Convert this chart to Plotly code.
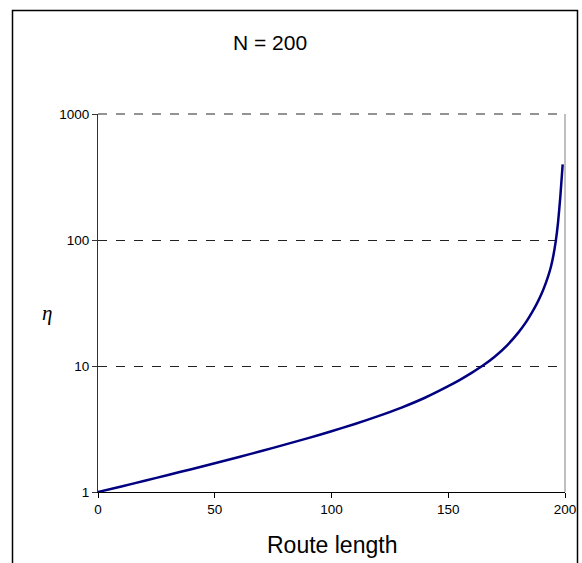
import plotly.graph_objects as go

# Data
route_length = [0, 10, 20, 30, 40, 50, 60, 70, 80, 90, 100, 110, 120, 130, 140,
                150, 155, 160, 165, 170, 175, 180, 183, 186, 188, 190, 192,
                193, 194, 195, 196, 197, 198, 199]
eta = [1.00, 1.107, 1.227, 1.365, 1.517, 1.690, 1.888, 2.113, 2.377, 2.679,
       3.034, 3.467, 4.00, 4.677, 5.598, 6.918, 7.762, 8.81, 10.12, 11.89,
       14.45, 18.41, 21.88, 26.92, 31.41, 37.58, 46.77, 53.09, 61.66, 75.0,
       96.6, 136.5, 221.3, 398.0]

y_tickvals = [1, 10, 100, 1000]
y_ticktext = ["1", "10", "100", "1000"]
x_tickvals = [0, 50, 100, 150, 200]

FONT = "Liberation Sans, Arial, sans-serif"

fig = go.Figure()
fig.add_trace(go.Scatter(
    x=route_length, y=eta, mode="lines",
    line=dict(color="#000080", width=2.5, shape="spline", smoothing=0.6),
    showlegend=False, hoverinfo="skip",
))

W, H = 582, 563
L, R, T, B = 98, 17, 114, 71
pw, ph = W - L - R, H - T - B

def px(x):
    return (x - L) / pw

def py(y):
    return (H - B - y) / ph

fig.update_layout(
    width=W, height=H,
    margin=dict(l=L, r=R, t=T, b=B, pad=0, autoexpand=False),
    paper_bgcolor="white", plot_bgcolor="white",
    font=dict(family=FONT, color="black", size=13),
    xaxis=dict(
        range=[0, 200], tickvals=x_tickvals, ticks="outside", ticklen=5,
        tickcolor="black", showline=True, linecolor="black", linewidth=1.2,
        showgrid=False, zeroline=False, automargin=False,
        tickfont=dict(size=13.5, family=FONT),
    ),
    yaxis=dict(
        type="log", range=[0, 3], tickvals=y_tickvals, ticktext=y_ticktext,
        ticks="outside", ticklen=5, tickcolor="#333333", showline=True,
        linecolor="#333333", linewidth=1.2, showgrid=True, gridcolor="#222222",
        griddash="dash", gridwidth=1, zeroline=False, automargin=False,
        tickfont=dict(size=13.5, family=FONT),
    ),
    shapes=[
        # top gridline at 1000 (over plot border)
        dict(type="line", xref="paper", yref="paper", x0=0, x1=1, y0=1, y1=1,
             line=dict(color="#707070", width=1.3, dash="dash")),
        # right plot border
        dict(type="line", xref="paper", yref="paper", x0=1, x1=1, y0=0, y1=1,
             line=dict(color="#808080", width=1)),
        # outer chart border
        dict(type="rect", xref="paper", yref="paper",
             x0=px(12.5), x1=px(577.5), y0=py(10.5), y1=py(620),
             line=dict(color="black", width=1.5), fillcolor="rgba(0,0,0,0)"),
    ],
    annotations=[
        dict(text="N = 200", xref="paper", yref="paper", x=px(270), y=py(43),
             showarrow=False, font=dict(size=21, family=FONT),
             xanchor="center", yanchor="middle"),
        dict(text="<i>η</i>", xref="paper", yref="paper", x=px(47), y=py(313),
             showarrow=False, font=dict(size=21, family="Liberation Serif, serif"),
             xanchor="center", yanchor="middle"),
        dict(text="Route length", xref="paper", yref="paper", x=0.5, y=py(545),
             showarrow=False, font=dict(size=23, family=FONT),
             xanchor="center", yanchor="middle"),
    ],
)

fig.write_html("out.html", config={"displayModeBar": False},
               post_script="document.body.style.margin='0px';")
